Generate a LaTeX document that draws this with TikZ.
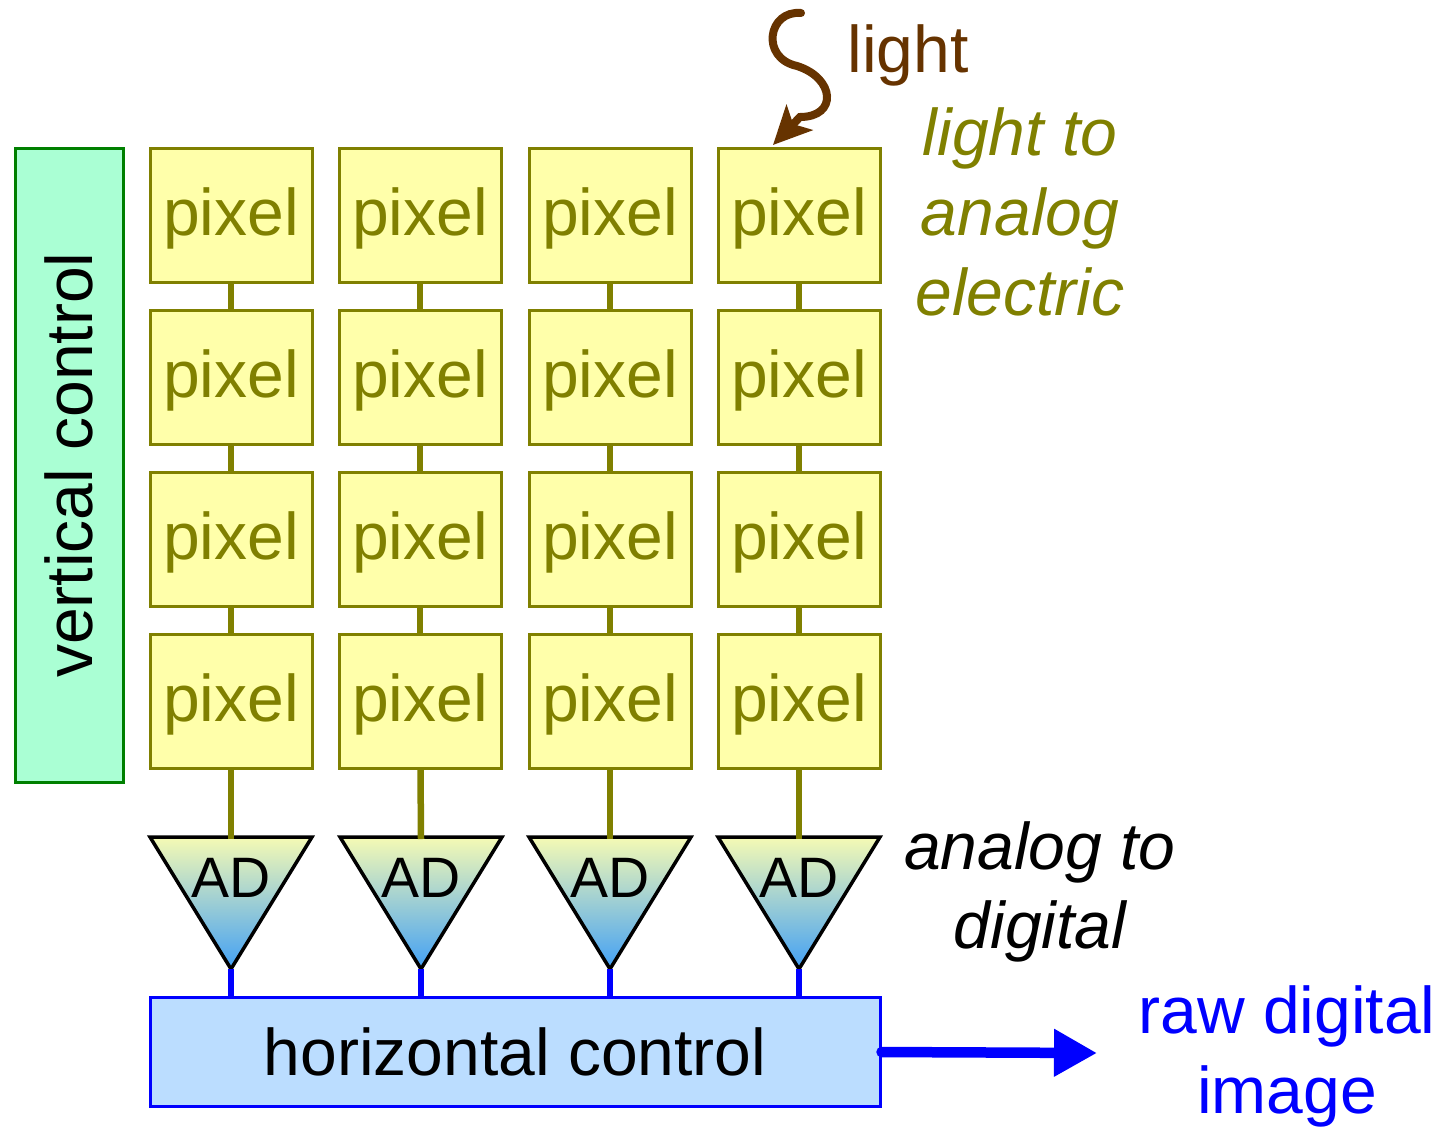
\documentclass[tikz,border=0pt]{standalone}
\usepackage{fontspec}
\setmainfont{Liberation Sans}
\usetikzlibrary{arrows.meta}

\definecolor{pixelfill}{RGB}{255,255,170}
\definecolor{pixelolive}{RGB}{128,128,0}
\definecolor{vertfill}{RGB}{170,255,212}
\definecolor{vertgreen}{RGB}{0,128,0}
\definecolor{horzfill}{RGB}{187,221,255}
\definecolor{lightbrown}{RGB}{102,51,0}
\definecolor{adtop}{RGB}{245,250,180}
\definecolor{adbottom}{RGB}{66,160,245}

\tikzset{
bigfont/.style={font=\fontsize{66}{80}\selectfont},
pixelbox/.style={
draw=pixelolive,
fill=pixelfill,
line width=3pt,
minimum width=162pt,
minimum height=134pt,
inner sep=0pt,
text height=55pt,
text depth=14pt,
text=pixelolive,
bigfont
},
pixelwire/.style={draw=pixelolive,line width=6.5pt},
digitalwire/.style={draw=blue,line width=6.5pt},
adshape/.style={draw=black,line width=3.5pt,top color=adtop,bottom color=adbottom},
adlabel/.style={inner sep=0pt,font=\fontsize{57}{60}\selectfont},
ctrlbox/.style={line width=3pt,inner sep=0pt,bigfont},
note/.style={align=center,inner sep=0pt,bigfont},
lightray/.style={draw=lightbrown,line width=8pt,line cap=round,
-{Stealth[length=38pt,width=36pt,inset=9pt]}},
rawarrow/.style={draw=blue,line width=10.5pt,line cap=round,
-{Triangle[length=43pt,width=45pt]}}
}

\begin{document}
\begin{tikzpicture}[x=1pt,y=-1pt]

\useasboundingbox (0,0) rectangle (1442,1127);

%%%%%%%%%%%%%%%%%%%%%%%%%%%%%%%%%%%%%%%%%%%%%%%%%%%%%%%%%%
% VERTICAL CONTROL
%%%%%%%%%%%%%%%%%%%%%%%%%%%%%%%%%%%%%%%%%%%%%%%%%%%%%%%%%%

\node[
ctrlbox,
draw=vertgreen,
fill=vertfill,
rotate=90,
minimum width=634pt,
minimum height=108pt
](vctrl)
at (69,465)
{vertical control};

%%%%%%%%%%%%%%%%%%%%%%%%%%%%%%%%%%%%%%%%%%%%%%%%%%%%%%%%%%
% PIXEL ARRAY
%%%%%%%%%%%%%%%%%%%%%%%%%%%%%%%%%%%%%%%%%%%%%%%%%%%%%%%%%%

\node[pixelbox](p11) at (231,215) {pixel};
\node[pixelbox](p12) at (420,215) {pixel};
\node[pixelbox](p13) at (610,215) {pixel};
\node[pixelbox](p14) at (799,215) {pixel};

\node[pixelbox](p21) at (231,377) {pixel};
\node[pixelbox](p22) at (420,377) {pixel};
\node[pixelbox](p23) at (610,377) {pixel};
\node[pixelbox](p24) at (799,377) {pixel};

\node[pixelbox](p31) at (231,539) {pixel};
\node[pixelbox](p32) at (420,539) {pixel};
\node[pixelbox](p33) at (610,539) {pixel};
\node[pixelbox](p34) at (799,539) {pixel};

\node[pixelbox](p41) at (231,701) {pixel};
\node[pixelbox](p42) at (420,701) {pixel};
\node[pixelbox](p43) at (610,701) {pixel};
\node[pixelbox](p44) at (799,701) {pixel};

%%%%%%%%%%%%%%%%%%%%%%%%%%%%%%%%%%%%%%%%%%%%%%%%%%%%%%%%%%
% AD CONVERTERS
%%%%%%%%%%%%%%%%%%%%%%%%%%%%%%%%%%%%%%%%%%%%%%%%%%%%%%%%%%

\coordinate (ad1top) at (231,837);
\coordinate (ad2top) at (421,837);
\coordinate (ad3top) at (610,837);
\coordinate (ad4top) at (799,837);

\coordinate (ad1tip) at (231,969);
\coordinate (ad2tip) at (421,969);
\coordinate (ad3tip) at (610,969);
\coordinate (ad4tip) at (799,969);

\path[adshape] (150,837) -- (312,837) -- (ad1tip) -- cycle;
\path[adshape] (340,837) -- (502,837) -- (ad2tip) -- cycle;
\path[adshape] (529,837) -- (691,837) -- (ad3tip) -- cycle;
\path[adshape] (718,837) -- (880,837) -- (ad4tip) -- cycle;

\node[adlabel](ad1) at (231,878) {AD};
\node[adlabel](ad2) at (421,878) {AD};
\node[adlabel](ad3) at (610,878) {AD};
\node[adlabel](ad4) at (799,878) {AD};

%%%%%%%%%%%%%%%%%%%%%%%%%%%%%%%%%%%%%%%%%%%%%%%%%%%%%%%%%%
% HORIZONTAL CONTROL
%%%%%%%%%%%%%%%%%%%%%%%%%%%%%%%%%%%%%%%%%%%%%%%%%%%%%%%%%%

\node[
ctrlbox,
draw=blue,
fill=horzfill,
minimum width=730pt,
minimum height=109pt
](hctrl)
at (515,1052)
{horizontal control};

%%%%%%%%%%%%%%%%%%%%%%%%%%%%%%%%%%%%%%%%%%%%%%%%%%%%%%%%%%
% LABELS
%%%%%%%%%%%%%%%%%%%%%%%%%%%%%%%%%%%%%%%%%%%%%%%%%%%%%%%%%%

\node[note,text=lightbrown](lighttext) at (908,55) {light};
\node[note,text=pixelolive,font=\fontsize{66}{80}\selectfont\itshape](convtext) at (1020,212) {light to\\analog\\electric};
\node[note,font=\fontsize{66}{79}\selectfont\itshape](adtext) at (1040,892) {analog to\\digital};
\node[note,text=blue](rawtext) at (1287,1056) {raw digital\\image};

\coordinate (lightsrc) at (801,13);
\coordinate (lightbend) at (800,117);
\coordinate (lightin) at (773,145);
\coordinate (rawout) at (1097,1053);

%%%%%%%%%%%%%%%%%%%%%%%%%%%%%%%%%%%%%%%%%%%%%%%%%%%%%%%%%%
% CONNECTIONS
%%%%%%%%%%%%%%%%%%%%%%%%%%%%%%%%%%%%%%%%%%%%%%%%%%%%%%%%%%

\draw[pixelwire](p11)--(p21);
\draw[pixelwire](p21)--(p31);
\draw[pixelwire](p31)--(p41);
\draw[pixelwire](p12)--(p22);
\draw[pixelwire](p22)--(p32);
\draw[pixelwire](p32)--(p42);
\draw[pixelwire](p13)--(p23);
\draw[pixelwire](p23)--(p33);
\draw[pixelwire](p33)--(p43);
\draw[pixelwire](p14)--(p24);
\draw[pixelwire](p24)--(p34);
\draw[pixelwire](p34)--(p44);

\draw[pixelwire](p41)--([yshift=-2pt]ad1top);
\draw[pixelwire](p42)--([yshift=-2pt]ad2top);
\draw[pixelwire](p43)--([yshift=-2pt]ad3top);
\draw[pixelwire](p44)--([yshift=-2pt]ad4top);

\draw[digitalwire](ad1tip)--(ad1tip |- hctrl.north);
\draw[digitalwire](ad2tip)--(ad2tip |- hctrl.north);
\draw[digitalwire](ad3tip)--(ad3tip |- hctrl.north);
\draw[digitalwire](ad4tip)--(ad4tip |- hctrl.north);

\draw[lightray](lightsrc) .. controls (768,10) and (760,58) .. (797,66)
.. controls (835,78) and (838,117) .. (lightbend) -- (lightin);

\draw[rawarrow](hctrl.east)--(rawout);

\end{tikzpicture}
\end{document}
